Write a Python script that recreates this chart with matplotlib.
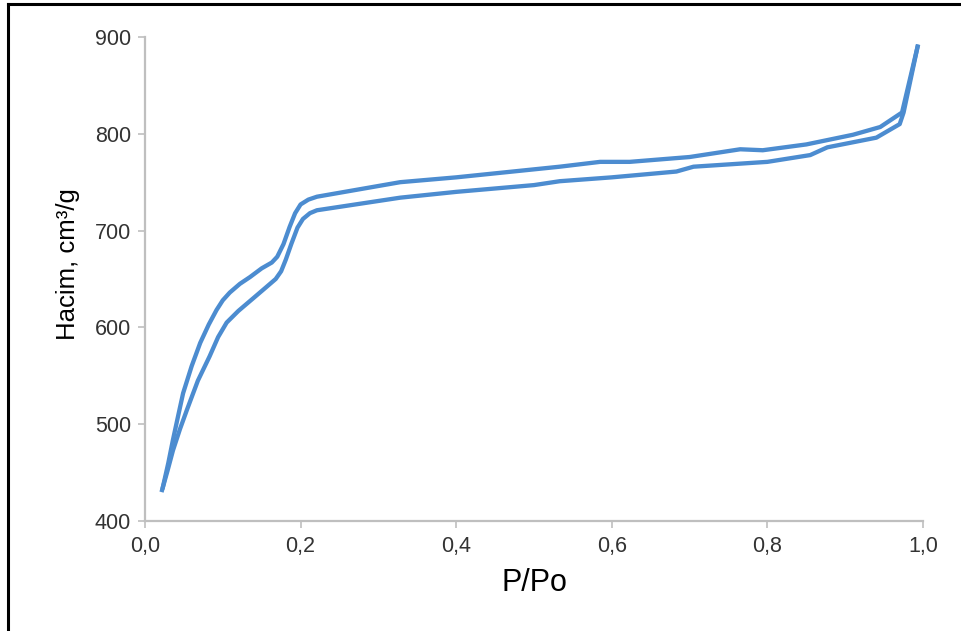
import matplotlib
matplotlib.use("Agg")
import matplotlib.pyplot as plt
from matplotlib.lines import Line2D

plt.rcParams['font.family'] = ['Liberation Sans', 'DejaVu Sans']

# adsorpsiyon (alt egri)
p_ads = [0.022, 0.029, 0.036, 0.045, 0.054, 0.068, 0.083, 0.094, 0.105, 0.120, 0.139,
         0.155, 0.168, 0.175, 0.181, 0.188, 0.196, 0.203, 0.212, 0.221,
         0.328, 0.40, 0.50, 0.533, 0.60, 0.683, 0.705, 0.80, 0.855, 0.877, 0.94, 0.97, 0.975, 0.993]
v_ads = [432, 452, 473, 495, 515, 545, 570, 590, 605, 617, 630,
         641, 650, 658, 670, 686, 703, 712, 718, 721,
         734, 740, 747, 751, 755, 761, 766, 771, 778, 786, 796, 810, 822, 890]

# desorpsiyon (ust egri)
p_des = [0.023, 0.030, 0.036, 0.043, 0.049, 0.060, 0.071, 0.082, 0.092, 0.100, 0.109,
         0.122, 0.135, 0.150, 0.163, 0.170, 0.178, 0.186, 0.193, 0.200, 0.210, 0.221,
         0.328, 0.40, 0.533, 0.585, 0.623, 0.70, 0.765, 0.794, 0.85, 0.91, 0.945, 0.973, 0.993]
v_des = [435, 460, 484, 510, 532, 560, 584, 603, 618, 628, 636,
         645, 652, 661, 667, 673, 686, 704, 718, 727, 732, 735,
         750, 755, 766, 771, 771, 776, 784, 783, 789, 799, 807, 822, 890]

x_ticks = [0.0, 0.2, 0.4, 0.6, 0.8, 1.0]
x_labels = ['0,0', '0,2', '0,4', '0,6', '0,8', '1,0']
y_ticks = [400, 500, 600, 700, 800, 900]

fig = plt.figure(figsize=(9.62, 6.31), dpi=100)
ax = fig.add_axes([0.1507, 0.1743, 0.9595 - 0.1507, 0.9414 - 0.1743])

line_color = '#4C8CD0'
ax.plot(p_ads, v_ads, color=line_color, lw=3.1, solid_joinstyle='round')
ax.plot(p_des, v_des, color=line_color, lw=3.1, solid_joinstyle='round')

ax.set_xlim(0, 1.0)
ax.set_ylim(400, 900)
ax.set_xticks(x_ticks)
ax.set_xticklabels(x_labels)
ax.set_yticks(y_ticks)

for s in ['top', 'right']:
    ax.spines[s].set_visible(False)
for s in ['left', 'bottom']:
    ax.spines[s].set_color('#BFBFBF')
    ax.spines[s].set_linewidth(1.6)

ax.tick_params(axis='both', colors='#BFBFBF', labelcolor='#333333', labelsize=15.5,
               length=5, width=1.2, direction='out')
ax.tick_params(axis='x', pad=6)
ax.tick_params(axis='y', pad=5)

ax.set_xlabel('P/Po', fontsize=22, color='black', labelpad=8)
ax.set_ylabel('Hacim, cm³/g', fontsize=18.5, color='black', labelpad=11)
ax.yaxis.label.set_y(0.53)

# siyah cerceve (sol ve ust)
fig.add_artist(Line2D([8 / 962, 8 / 962], [0, 1 - 4 / 631], color='black', lw=2.2,
                      transform=fig.transFigure))
fig.add_artist(Line2D([8 / 962, 1], [1 - 4 / 631, 1 - 4 / 631], color='black', lw=2.2,
                      transform=fig.transFigure))

fig.savefig('out.png', dpi=100)
